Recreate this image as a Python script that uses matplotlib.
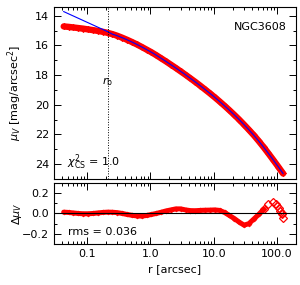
import numpy as np
import matplotlib.pyplot as plt
from matplotlib.ticker import FixedLocator, MultipleLocator, NullFormatter, LogLocator

# surface brightness profile (r in arcsec, mu in mag/arcsec^2)
r_data = [0.0427, 0.0509, 0.0608, 0.0726, 0.0867, 0.1035, 0.1236, 0.1476, 0.1762, 0.2104,
          0.2512, 0.2999, 0.3581, 0.4276, 0.5105, 0.6095, 0.7278, 0.8690, 1.0375, 1.2388,
          1.4791, 1.7660, 2.1086, 2.5177, 3.0061, 3.5892, 4.2855, 5.1168, 6.1094, 7.2946,
          8.7096, 10.399, 12.417, 14.825, 17.701, 21.135, 25.235, 30.130, 35.975, 42.954,
          51.286, 61.235, 73.114, 87.297, 104.23, 124.45]
mu_data = [14.72, 14.75, 14.79, 14.83, 14.87, 14.92, 14.97, 15.02, 15.08, 15.15,
           15.24, 15.35, 15.48, 15.62, 15.77, 15.93, 16.10, 16.28, 16.46, 16.66,
           16.87, 17.08, 17.30, 17.52, 17.75, 17.98, 18.22, 18.46, 18.71, 18.97,
           19.23, 19.50, 19.78, 20.07, 20.37, 20.68, 21.00, 21.34, 21.69, 22.05,
           22.44, 22.85, 23.28, 23.72, 24.17, 24.63]

# model (blue line): inner Sersic extension, then same as the profile
mu_model_core = [13.72, 13.87, 14.02, 14.17, 14.32, 14.47, 14.62, 14.77, 14.92, 15.07]

# residuals
r_res = r_data[:44] + [95.0, 100.5, 106.0, 112.0, 118.0, 121.0, 124.5]
d_res = [0.013, 0.010, 0.005, 0.000, -0.003, -0.003, 0.000, 0.005, 0.010, 0.013,
         0.012, 0.008, 0.000, -0.010, -0.018, -0.024, -0.026, -0.020, -0.010, 0.000,
         0.012, 0.025, 0.035, 0.045, 0.045, 0.035, 0.028, 0.027, 0.030, 0.032,
         0.033, 0.035, 0.030, 0.010, -0.020, -0.050, -0.085, -0.115, -0.100, -0.055,
         -0.010, 0.040, 0.090, 0.110, 0.090, 0.070, 0.050, 0.020, -0.010, 0.000, -0.040]

r_b = 0.21
gal = 'NGC3608'
chi2 = 1.0
rms = 0.036

plt.rcParams['font.family'] = ['DejaVu Sans']
plt.rcParams['font.size'] = 8

fig = plt.figure(figsize=(3.0, 2.85), dpi=100)
ax1 = fig.add_axes([0.18, 0.372, 0.807, 0.604])
ax2 = fig.add_axes([0.18, 0.144, 0.807, 0.214], sharex=ax1)

mu_model = mu_model_core + mu_data[len(mu_model_core):]

# thick red band of data points
ax1.plot(r_data, mu_data, color='red', lw=4.6, solid_capstyle='round',
         marker='D', ms=3.2, mfc='red', mec='red', mew=0.5)
ax1.plot(r_data, mu_model, color='blue', lw=0.8)
ax1.axvline(r_b, color='black', ls=':', lw=0.7)
ax1.text(r_b, 0.564, r'$r_{\rm b}$', transform=ax1.get_xaxis_transform(), ha='center', va='center')
ax1.text(0.963, 0.884, gal, transform=ax1.transAxes, ha='right', va='center')
ax1.text(0.054, 0.099, r'$\chi^2_{\rm CS}$ = ' + '%.1f' % chi2, transform=ax1.transAxes, ha='left', va='center')

ax1.set_xscale('log')
ax1.set_xlim(0.03, 200)
ax1.set_ylim(25.0, 13.4)
ax1.yaxis.set_major_locator(MultipleLocator(2))
ax1.yaxis.set_minor_locator(MultipleLocator(1))
ax1.set_ylabel(r'$\mu_V$ [mag/arcsec$^2$]')
plt.setp(ax1.get_xticklabels(), visible=False)

n_dense = 42
ax2.plot(r_res[:n_dense], d_res[:n_dense], color='red', lw=3.6, solid_capstyle='round',
         marker='D', ms=2.5, mfc='red', mec='red', mew=0.5)
ax2.plot(r_res[n_dense - 1:], d_res[n_dense - 1:], ls='none', marker='D', ms=3.6,
         mfc='none', mec='red', mew=0.9)
ax2.axhline(0, color='black', lw=0.8)
ax2.text(0.058, 0.197, 'rms = %.3f' % rms, transform=ax2.transAxes, ha='left', va='center')
ax2.set_ylim(-0.3, 0.3)
ax2.yaxis.set_major_locator(FixedLocator([-0.2, 0.0, 0.2]))
ax2.yaxis.set_minor_locator(MultipleLocator(0.1))
ax2.set_yticklabels(['\u22120.2', '0.0', '0.2'])
ax2.set_xticks([0.1, 1, 10, 100])
ax2.set_xticklabels(['0.1', '1.0', '10.0', '100.0'])
ax2.xaxis.set_minor_locator(LogLocator(base=10, subs=np.arange(2, 10)))
ax2.xaxis.set_minor_formatter(NullFormatter())
ax2.set_ylabel(r'$\Delta\mu_V$')
ax2.set_xlabel('r [arcsec]')

for ax in (ax1, ax2):
    ax.tick_params(which='both', direction='in', top=True, right=True, width=0.7)
    ax.tick_params(which='major', length=5)
    ax.tick_params(which='minor', length=2.5)
    ax.yaxis.set_label_coords(-0.125, 0.5)
    for s in ax.spines.values():
        s.set_linewidth(0.8)

fig.savefig('out.png', dpi=100)
